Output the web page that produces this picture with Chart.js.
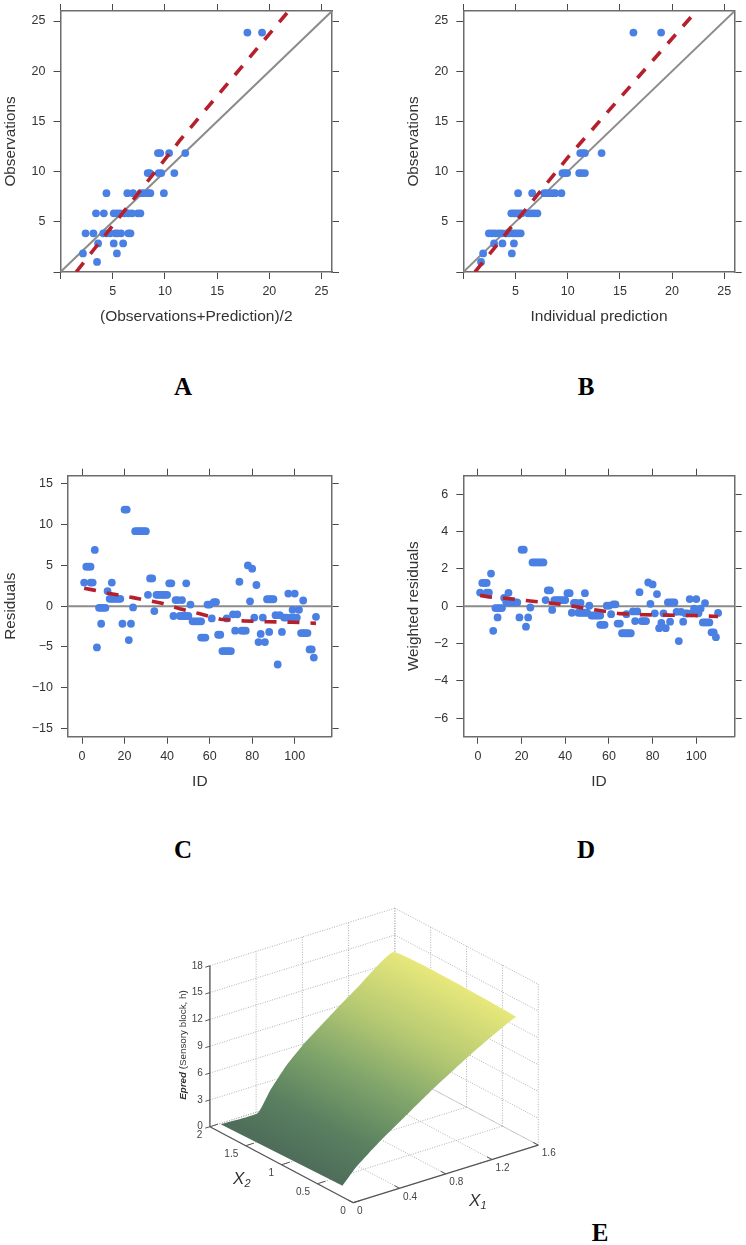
<!DOCTYPE html>
<html>
<head>
<meta charset="utf-8">
<style>
  html, body { margin: 0; padding: 0; background: #fff; }
  #page { position: relative; width: 746px; height: 1245px; overflow: hidden; }
  canvas { position: absolute; display: block; filter: blur(0.3px); }
  .letter { position: absolute; width: 40px; margin-left: -20px; text-align: center;
    font: bold 25px "Liberation Serif", serif; color: #000; line-height: 28px; }
</style>
<script src="https://cdn.jsdelivr.net/npm/chart.js@4"></script>
</head>
<body>
<div id="page">
  <canvas id="chartA" width="345" height="335" style="left:0;top:0"></canvas>
  <canvas id="chartB" width="356" height="335" style="left:390px;top:0"></canvas>
  <canvas id="chartC" width="345" height="335" style="left:0;top:460px"></canvas>
  <canvas id="chartD" width="356" height="335" style="left:390px;top:460px"></canvas>
  <canvas id="chartE" width="400" height="345" style="left:160px;top:900px"></canvas>
  <div class="letter" style="left:183px;top:373px">A</div>
  <div class="letter" style="left:586px;top:373px">B</div>
  <div class="letter" style="left:183px;top:836px">C</div>
  <div class="letter" style="left:586px;top:836px">D</div>
  <div class="letter" style="left:600px;top:1219px">E</div>
</div>
<script>
const obsTicks = [0, 5, 10, 15, 20, 25];
const idTicks = [0, 20, 40, 60, 80, 100];
const residualTicks = [-15, -10, -5, 0, 5, 10, 15];
const weightedTicks = [-6, -4, -2, 0, 2, 4, 6];

const unityLine = [0, 26];

const meanPredA = [
  17.9, 19.3,
  9.33, 9.55, 10.4, 11.95,
  8.35, 8.55, 9.4, 9.65, 10.9,
  4.4, 6.4, 6.95, 7.65, 7.95, 8.4, 8.6, 9.9,
  3.4, 4.15, 5.1, 5.4, 5.7, 6.1, 6.5, 6.85, 7.4, 7.65,
  2.4, 3.15, 4.1, 4.4, 4.75, 5.25, 5.45, 5.8, 6.5, 6.7,
  3.6, 5.1, 6.0,
  2.15, 5.4,
  3.5,
];
const observedA = [
  23.85, 23.85,
  11.85, 11.85, 11.85, 11.85,
  9.85, 9.85, 9.85, 9.85, 9.85,
  7.85, 7.85, 7.85, 7.85, 7.85, 7.85, 7.85, 7.85,
  5.85, 5.85, 5.85, 5.85, 5.85, 5.85, 5.85, 5.85, 5.85, 5.85,
  3.85, 3.85, 3.85, 3.85, 3.85, 3.85, 3.85, 3.85, 3.85, 3.85,
  2.85, 2.85, 2.85,
  1.85, 1.85,
  1.0,
];
const trendAx = [1.5, 11.5, 21.85];
const trendAy = [0, 13.2, 26];

const individualPredB = [
  16.3, 18.95,
  11.2, 11.45, 11.65, 13.25,
  9.5, 9.75, 9.95, 11.1, 11.35, 11.65,
  5.25, 6.6, 7.75, 8, 8.3, 8.6, 8.8, 9.4,
  4.6, 4.85, 5.1, 5.35, 5.6, 6.2, 6.5, 6.8, 7.1,
  2.45, 2.75, 3.05, 3.4, 3.7, 4.15, 4.4, 4.75, 5, 5.25, 5.5,
  2.95, 3.75, 4.85,
  1.9, 4.65,
  1.7,
];
const observedB = [
  23.85, 23.85,
  11.85, 11.85, 11.85, 11.85,
  9.85, 9.85, 9.85, 9.85, 9.85, 9.85,
  7.85, 7.85, 7.85, 7.85, 7.85, 7.85, 7.85, 7.85,
  5.85, 5.85, 5.85, 5.85, 5.85, 5.85, 5.85, 5.85, 5.85,
  3.85, 3.85, 3.85, 3.85, 3.85, 3.85, 3.85, 3.85, 3.85, 3.85, 3.85,
  2.85, 2.85, 2.85,
  1.85, 1.85,
  1.0,
];
const trendBx = [1.12, 10, 17.25, 21.9];
const trendBy = [0, 11.4, 20, 25.5];

const subjectIds = [
  1, 2, 3, 4, 4, 5, 6, 7, 8, 9, 9, 10, 11, 12, 13, 14, 14, 15, 16, 17, 18, 19,
  20, 21, 22, 23, 24, 25, 26, 27, 28, 29, 30, 31, 32, 33, 34, 35, 36, 37, 38, 39, 40,
  41, 42, 43, 44, 45, 46, 47, 47, 48, 49, 49, 50, 51, 52, 53, 54, 55, 56, 56, 57, 58,
  59, 60, 61, 62, 63, 64, 65, 66, 67, 68, 68, 69, 70, 71, 72, 73, 74, 75, 76, 77,
  78, 79, 80, 81, 82, 83, 84, 85, 86, 87, 88, 88, 89, 90, 91, 92, 93, 94, 95, 96,
  97, 98, 99, 100, 100, 101, 102, 103, 104, 104, 105, 106, 107, 108, 109, 110,
];
const residuals = [
  2.9, 4.85, 4.85, 4.85, 2.9, 2.9, 6.9, -5.05, -0.2, -2.15, -0.2, -0.2, -0.2, 1.85, 0.9, 2.9, 0.9, 0.9, 0.9, 0.9, 0.9, -2.15,
  11.85, 11.85, -4.15, -2.15, -0.15, 9.2, 9.2, 9.2, 9.2, 9.2, 9.2, 1.4, 3.4, 3.4, -0.6, 1.4, 1.4, 1.4, 1.4, 1.4, 1.4,
  2.8, 2.8, -1.2, 0.75, 0.75, -1.2, 0.75, -1.2, -1.2, 2.8, -1.2, -1.2, 0.2, -1.85, -1.85, -1.85, -1.85, -1.85, -3.85, -3.85, -3.85,
  0.2, 0.2, -1.5, 0.5, 0.5, -3.5, -3.5, -5.5, -5.5, -1.5, -5.5, -5.5, -5.5, -1, -3, -1, 3, -3, -3, -3,
  5, 0.6, 4.6, -1.4, 2.6, -4.4, -3.4, -1.4, -4.4, 0.85, -3.15, 0.85, 0.85, 0.85, -1.1, -7.15, -1.1, -3.15, -1.4, -1.4,
  1.55, -1.4, -0.45, 1.55, -1.4, -1.4, -0.45, -3.3, -3.3, 0.7, -3.3, -3.3, -5.3, -5.3, -6.3, -1.3,
];
const weightedResiduals = [
  0.73, 1.25, 1.25, 1.25, 0.73, 0.73, 1.75, -1.32, -0.1, -0.6, -0.1, -0.1, -0.1, 0.45, 0.2, 0.72, 0.2, 0.2, 0.2, 0.2, 0.2, -0.6,
  3.03, 3.03, -1.1, -0.6, -0.07, 2.35, 2.35, 2.35, 2.35, 2.35, 2.35, 0.33, 0.85, 0.85, -0.2, 0.33, 0.33, 0.33, 0.33, 0.33, 0.33,
  0.7, 0.7, -0.35, 0.18, 0.18, -0.35, 0.18, -0.35, -0.35, 0.7, -0.35, -0.35, 0.03, -0.5, -0.5, -0.5, -0.5, -0.5, -1, -1, -1,
  0.03, 0.03, -0.43, 0.1, 0.1, -0.93, -0.93, -1.45, -1.45, -0.43, -1.45, -1.45, -1.45, -0.28, -0.8, -0.28, 0.75, -0.8, -0.8, -0.8,
  1.27, 0.13, 1.17, -0.38, 0.65, -1.18, -0.9, -0.38, -1.18, 0.2, -0.83, 0.2, 0.2, 0.2, -0.3, -1.87, -0.3, -0.83, -0.38, -0.38,
  0.38, -0.38, -0.13, 0.38, -0.38, -0.38, -0.13, -0.87, -0.87, 0.17, -0.87, -0.87, -1.4, -1.4, -1.66, -0.36,
];
const trendIds = [1, 5, 13, 24, 37, 46, 55, 65, 76, 87, 99, 110];
const trendResiduals = [2.2, 2.0, 1.55, 1.05, 0.4, -0.3, -0.9, -1.6, -1.8, -1.9, -1.96, -2.1];
const trendWeighted = [0.58, 0.5, 0.42, 0.28, 0.12, -0.05, -0.22, -0.4, -0.46, -0.48, -0.5, -0.55];

const x1Ticks = [0, 0.4, 0.8, 1.2, 1.6];
const x2Ticks = [0, 0.5, 1, 1.5, 2];
const zTicks = [0, 3, 6, 9, 12, 15, 18];
// far edge of the surface (x2 = 1.85)
const farX1 = [0, 0.32, 0.43, 0.57, 0.71, 0.86, 1.0, 1.2, 1.5];
const farZ = [0.9, 0.84, 3.0, 5.22, 6.9, 8.37, 9.75, 11.6, 14.14];
// near edge of the surface (x2 = 0.15)
const nearX1 = [0, 0.12, 0.32, 0.56, 0.76, 0.93, 1.07, 1.25, 1.46, 1.5];
const nearZ = [1.26, 2.89, 4.88, 7.0, 8.75, 10.1, 11.18, 12.5, 13.9, 14.15];

const BLUE = "#4a80e3";
const RED = "#b5202c";
const GREY = "#8c8c8c";
const SANS = '"Liberation Sans", Arial, sans-serif';

function toPoints(xs, ys) {
  return xs.map((x, i) => ({ x, y: ys[i] }));
}

function formatTick(value) {
  return String(value).replace("-", "\u2212");
}

function formatNoZero(value) {
  return value === 0 ? "" : String(value);
}

function axis(position, tickValues, min, max, size, extra) {
  const isVertical = position === "left" || position === "right";
  return Object.assign(
    {
      type: "linear",
      position,
      display: true,
      min,
      max,
      afterBuildTicks(scale) {
        scale.ticks = tickValues.map((value) => ({ value }));
      },
      afterFit(scale) {
        if (isVertical) scale.width = size;
        else scale.height = size;
        // keep the plot box where the sizes put it, whatever the labels want
        scale.paddingTop = scale.paddingBottom = scale.paddingLeft = scale.paddingRight = 0;
      },
      border: { display: true, color: "#6c6c6c", width: 1.5 },
      grid: { drawOnChartArea: false, drawTicks: true, tickLength: 7, tickColor: "#4a4a4a", lineWidth: 1 },
      ticks: { display: false },
    },
    extra
  );
}

function labelledTicks(format, padding) {
  return {
    display: true,
    autoSkip: false,
    maxRotation: 0,
    minRotation: 0,
    padding,
    color: "#333",
    font: { family: SANS, size: 12.5 },
    callback: format,
  };
}

function drawPanel(id, cfg) {
  const datasets = [
    {
      type: "line",
      data: cfg.refLine,
      borderColor: GREY,
      borderWidth: 2,
      pointRadius: 0,
      order: 3,
    },
    {
      type: "line",
      data: cfg.trend,
      borderColor: RED,
      borderWidth: 3.6,
      borderDash: [12, 11],
      pointRadius: 0,
      order: 1,
    },
    {
      type: "scatter",
      data: cfg.points,
      backgroundColor: BLUE,
      borderWidth: 0,
      pointRadius: 3.9,
      order: 2,
    },
  ];
  new Chart(document.getElementById(id), {
    data: { datasets },
    options: {
      responsive: false,
      animation: false,
      layout: { padding: 0 },
      plugins: { legend: { display: false }, tooltip: { enabled: false } },
      scales: {
        x: axis("bottom", cfg.xTicks, cfg.xMin, cfg.xMax, cfg.bottom, {
          ticks: labelledTicks(cfg.xFormat, 5),
          title: {
            display: true,
            text: cfg.xTitle,
            color: "#333",
            font: { family: SANS, size: 15.5 },
            padding: { top: 0, bottom: cfg.bottom - 45 - 9 },
          },
        }),
        y: axis("left", cfg.yTicks, cfg.yMin, cfg.yMax, cfg.left, {
          ticks: labelledTicks(cfg.yFormat, 8),
          title: {
            display: true,
            text: cfg.yTitle,
            color: "#333",
            font: { family: SANS, size: 15.3 },
            padding: { top: cfg.yTitleEdge, bottom: 0 },
          },
        }),
        x2: axis("top", cfg.xTicks, cfg.xMin, cfg.xMax, cfg.top),
        y2: axis("right", cfg.yTicks, cfg.yMin, cfg.yMax, cfg.right),
      },
    },
  });
}

drawPanel("chartA", {
  points: toPoints(meanPredA, observedA),
  trend: toPoints(trendAx, trendAy),
  refLine: toPoints(unityLine, unityLine),
  xTicks: obsTicks, yTicks: obsTicks,
  xMin: 0, xMax: 26, yMin: 0, yMax: 26,
  xFormat: formatNoZero, yFormat: formatNoZero,
  xTitle: "(Observations+Prediction)/2", yTitle: "Observations",
  left: 60.5, right: 13, top: 11, bottom: 63, yTitleEdge: 2,
});

drawPanel("chartB", {
  points: toPoints(individualPredB, observedB),
  trend: toPoints(trendBx, trendBy),
  refLine: toPoints(unityLine, unityLine),
  xTicks: obsTicks, yTicks: obsTicks,
  xMin: 0, xMax: 26, yMin: 0, yMax: 26,
  xFormat: formatNoZero, yFormat: formatNoZero,
  xTitle: "Individual prediction", yTitle: "Observations",
  left: 73.3, right: 11.3, top: 11, bottom: 63, yTitleEdge: 14.5,
});

drawPanel("chartC", {
  points: toPoints(subjectIds, residuals),
  trend: toPoints(trendIds, trendResiduals),
  refLine: toPoints([-6.6, 117.4], [0, 0]),
  xTicks: idTicks, yTicks: residualTicks,
  xMin: -6.6, xMax: 117.4, yMin: -16, yMax: 16,
  xFormat: formatTick, yFormat: formatTick,
  xTitle: "ID", yTitle: "Residuals",
  left: 68, right: 13.3, top: 15.7, bottom: 58.3, yTitleEdge: 2,
});

drawPanel("chartD", {
  points: toPoints(subjectIds, weightedResiduals),
  trend: toPoints(trendIds, trendWeighted),
  refLine: toPoints([-6.7, 117.6], [0, 0]),
  xTicks: idTicks, yTicks: weightedTicks,
  xMin: -6.7, xMax: 117.6, yMin: -7, yMax: 7,
  xFormat: formatTick, yFormat: formatTick,
  xTitle: "ID", yTitle: "Weighted residuals",
  left: 73.3, right: 11.3, top: 15.7, bottom: 58.3, yTitleEdge: 14.5,
});

// panel E: oblique view of (X1, X2, Epred) onto a plain x/y chart
function project(x1, x2, z) {
  return {
    x: 193.3 + 115.6 * x1 - 71.7 * x2,
    y: 302.7 - 36 * x1 - 38 * x2 - 8.94 * z,
  };
}

function lineSet(from, to, color, width, dash) {
  return {
    type: "line",
    data: [project(...from), project(...to)],
    borderColor: color,
    borderWidth: width,
    borderDash: dash,
    pointRadius: 0,
  };
}

function surfaceFill(context) {
  const { ctx, scales, chartArea } = context.chart;
  if (!chartArea || !scales.x) return "#80a56b";
  const x0 = scales.x.getPixelForValue(181);
  const x1 = scales.x.getPixelForValue(291);
  if (!Number.isFinite(x0) || !Number.isFinite(x1)) return "#80a56b";
  const g = ctx.createLinearGradient(
    x0, scales.y.getPixelForValue(285),
    x1, scales.y.getPixelForValue(80)
  );
  g.addColorStop(0, "#4e6d5a");
  g.addColorStop(0.2, "#5a8060");
  g.addColorStop(0.45, "#80a56b");
  g.addColorStop(0.7, "#b5c972");
  g.addColorStop(1, "#e8e87b");
  return g;
}

const GRID_E = "#b0b0b0";
const DOTS = [1, 1.5];
const gridSets = [];
x1Ticks.forEach((v) => {
  gridSets.push(lineSet([v, 0, 0], [v, 2, 0], GRID_E, 1, DOTS));
  gridSets.push(lineSet([v, 2, 0], [v, 2, 18], GRID_E, 1, DOTS));
});
x2Ticks.forEach((v) => {
  gridSets.push(lineSet([0, v, 0], [1.6, v, 0], GRID_E, 1, DOTS));
  gridSets.push(lineSet([1.6, v, 0], [1.6, v, 18], GRID_E, 1, DOTS));
});
zTicks.forEach((v) => {
  gridSets.push(lineSet([0, 2, v], [1.6, 2, v], GRID_E, 1, DOTS));
  gridSets.push(lineSet([1.6, 2, v], [1.6, 0, v], GRID_E, 1, DOTS));
});

const surfaceOutline = farX1
  .map((x1, i) => project(x1, 1.85, farZ[i]))
  .concat(nearX1.map((x1, i) => project(x1, 0.15, nearZ[i])).reverse());

const surfaceSet = {
  type: "line",
  data: surfaceOutline,
  borderWidth: 0,
  borderColor: "rgba(0,0,0,0)",
  backgroundColor: surfaceFill,
  fill: "shape",
  tension: 0.12,
  pointRadius: 0,
};

const AXIS_E = "#555";
const axisSets = [
  lineSet([0, 2, 0], [0, 2, 18], AXIS_E, 1.3, []),
  lineSet([0, 0, 0], [0, 2, 0], AXIS_E, 1.3, []),
  lineSet([0, 0, 0], [1.6, 0, 0], AXIS_E, 1.3, []),
];
zTicks.forEach((v) => axisSets.push(lineSet([-0.04, 2, v], [0, 2, v], AXIS_E, 1, [])));
x1Ticks.forEach((v) => axisSets.push(lineSet([v, 0, 0], [v, 0.07, 0], AXIS_E, 1, [])));
x2Ticks.forEach((v) => axisSets.push(lineSet([0, v, 0], [0.07, v, 0], AXIS_E, 1, [])));

const surfaceLabels = {
  id: "surfaceLabels",
  afterDatasetsDraw(chart) {
    const { ctx, scales } = chart;
    const put = (text, u, v, font, align) => {
      ctx.font = font;
      ctx.textAlign = align;
      ctx.fillText(text, scales.x.getPixelForValue(u), scales.y.getPixelForValue(v));
    };
    const tickFont = "10px " + SANS;
    ctx.save();
    ctx.fillStyle = "#444";
    ctx.textBaseline = "middle";
    zTicks.forEach((v) => {
      const p = project(0, 2, v);
      put(String(v), p.x - 7, p.y, tickFont, "right");
    });
    x1Ticks.forEach((v, i) => {
      const p = project(v, 0, 0);
      put(String(v), p.x + (i === 0 ? 6.5 : 10.5), p.y + 8.5, tickFont, "center");
    });
    x2Ticks.forEach((v) => {
      const p = project(0, v, 0);
      put(String(v), p.x - 7.5, p.y + 8.5, tickFont, "right");
    });

    // axis names
    ctx.fillStyle = "#333";
    const nameFont = "italic 17px " + SANS;
    const subFont = "italic 11px " + SANS;
    put("X", 73, 279, nameFont, "left");
    put("2", 84.5, 284, subFont, "left");
    put("X", 309, 301, nameFont, "left");
    put("1", 320.5, 306, subFont, "left");

    ctx.translate(scales.x.getPixelForValue(23.5), scales.y.getPixelForValue(145));
    ctx.rotate(-Math.PI / 2);
    ctx.font = "italic bold 9.8px " + SANS;
    const head = "Epred";
    const tail = " (Sensory block, h)";
    const headWidth = ctx.measureText(head).width;
    ctx.font = "9.8px " + SANS;
    const tailWidth = ctx.measureText(tail).width;
    const start = -(headWidth + tailWidth) / 2;
    ctx.textAlign = "left";
    ctx.fillText(tail, start + headWidth, 0);
    ctx.font = "italic bold 9.8px " + SANS;
    ctx.fillText(head, start, 0);
    ctx.restore();
  },
};

new Chart(document.getElementById("chartE"), {
  data: { datasets: [...axisSets, surfaceSet, ...gridSets] },
  plugins: [surfaceLabels],
  options: {
    responsive: false,
    animation: false,
    layout: { padding: 0 },
    plugins: { legend: { display: false }, tooltip: { enabled: false } },
    scales: {
      x: { type: "linear", display: false, min: 0, max: 400 },
      y: { type: "linear", display: false, min: 0, max: 345, reverse: true },
    },
  },
});
</script>
</body>
</html>
